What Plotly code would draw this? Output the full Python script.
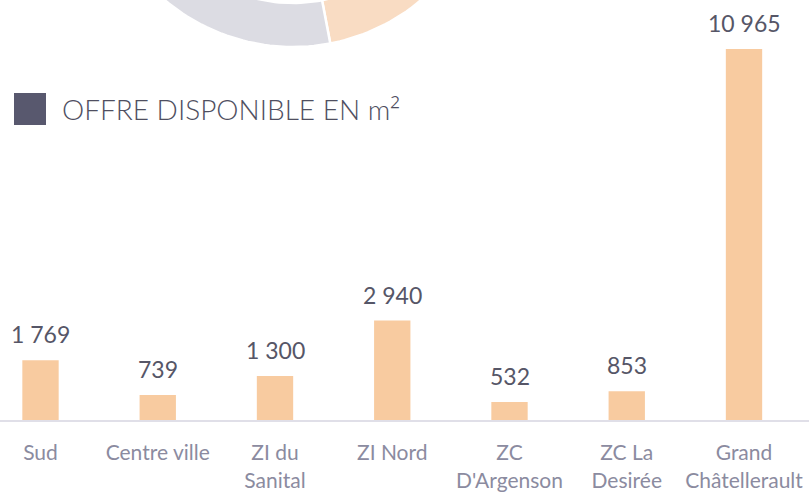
import math
import plotly.graph_objects as go

# Available office space per sector (m²)
categories = ["Sud", "Centre ville", "ZI du<br>Sanital", "ZI Nord",
              "ZC<br>D'Argenson", "ZC La<br>Desirée", "Grand<br>Châtellerault"]
surfaces = [1769, 739, 1300, 2940, 532, 853, 10965]

# Ring chart above the bar block (shares, clockwise from 12 o'clock)
ring_shares = [47, 53]
ring_colors = ["#f9dcc3", "#dcdce3"]

BAR_COLOR = "#f8cba0"
VALUE_COLOR = "#565667"
AXIS_TEXT = "#8b8ba0"
TITLE_COLOR = "#4f4f61"
FONT = "Lato"

W, H = 809, 492


def fmt(v):
    return f"{v:,}".replace(",", " ")


fig = go.Figure()

fig.add_trace(go.Bar(
    x=list(range(len(categories))), y=surfaces,
    width=0.31, marker=dict(color=BAR_COLOR, line=dict(width=0)),
    hoverinfo="skip", xaxis="x", yaxis="y",
))

for i, v in enumerate(surfaces):
    fig.add_annotation(
        x=i, y=v, xref="x", yref="y", text=fmt(v), showarrow=False,
        yanchor="bottom", yshift=10,
        font=dict(family=FONT, size=23, color=VALUE_COLOR),
    )

# Ring segments drawn in a pixel-space overlay (top part is cut by the page edge)
cx, cy, r_out, r_in = 293, -152, 199, 155
total = sum(ring_shares)
start = 0.0
for share, color in zip(ring_shares, ring_colors):
    end = start + 360.0 * share / total
    n = 120
    angs = [math.radians(start + (end - start) * k / n) for k in range(n + 1)]
    xs = [cx + r_out * math.sin(a) for a in angs] + [cx + r_in * math.sin(a) for a in reversed(angs)]
    ys = [cy - r_out * math.cos(a) for a in angs] + [cy - r_in * math.cos(a) for a in reversed(angs)]
    fig.add_trace(go.Scatter(
        x=xs + [xs[0]], y=ys + [ys[0]], mode="lines", fill="toself",
        fillcolor=color, line=dict(color="white", width=2.5),
        hoverinfo="skip", xaxis="x2", yaxis="y2",
    ))
    start = end

# Section heading with its square marker
fig.add_shape(type="rect", xref="x2", yref="y2", x0=14, x1=46, y0=93, y1=125,
              fillcolor="#58586e", line=dict(width=0))
fig.add_annotation(
    x=60, y=109, xref="x2", yref="y2",
    text='OFFRE DISPONIBLE EN m<span style="font-family:Open Sans">²</span>',
    showarrow=False, xanchor="left", yanchor="middle",
    font=dict(family=FONT, size=28, color=TITLE_COLOR, weight=300),
)

n_cat = len(categories)
step = 117.25
x0 = -40.5 / step
fig.update_layout(
    width=W, height=H,
    margin=dict(l=0, r=0, t=0, b=0),
    paper_bgcolor="white", plot_bgcolor="rgba(0,0,0,0)",
    showlegend=False,
    xaxis=dict(
        domain=[0, 1], range=[x0, x0 + W / step],
        tickmode="array", tickvals=list(range(n_cat)), ticktext=categories,
        showline=True, linecolor="#e0dfe8", linewidth=2,
        showgrid=False, zeroline=False, ticks="", ticklabelstandoff=13,
        tickfont=dict(family=FONT, size=21, color=AXIS_TEXT),
        fixedrange=True,
    ),
    yaxis=dict(
        domain=[72 / H, 1], range=[0, 12413], visible=False,
        showgrid=False, zeroline=False, fixedrange=True,
    ),
    xaxis2=dict(domain=[0, 1], range=[0, W], visible=False, anchor="y2", fixedrange=True),
    yaxis2=dict(domain=[0, 1], range=[H, 0], visible=False, anchor="x2", fixedrange=True),
)

fig.write_html("out.html")
